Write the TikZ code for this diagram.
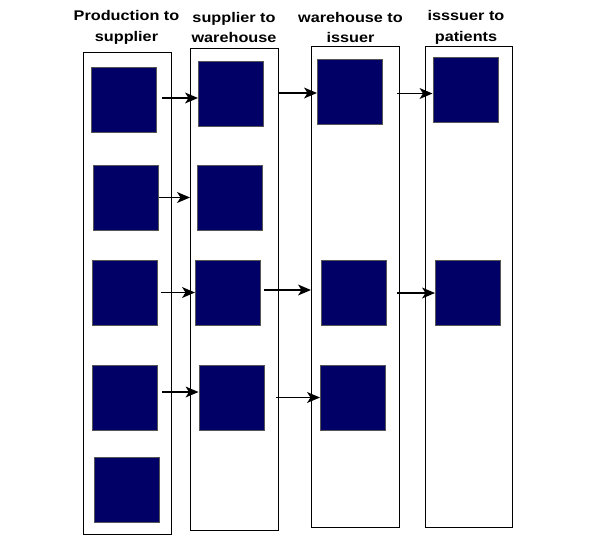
\documentclass[tikz,border=0pt]{standalone}
\usepackage{fontspec}
\setmainfont{Liberation Sans}
\newfontfamily\hdrfont[FakeStretch=1.16]{Liberation Sans}
\definecolor{navy}{HTML}{000066}
\definecolor{sqedge}{HTML}{555555}
\tikzset{
  lane/.style={draw=black, line width=1.4pt, fill=white, minimum width=88pt, minimum height=481pt, inner sep=0pt, anchor=north west},
  sq/.style={draw=sqedge, line width=1pt, fill=navy, minimum size=65pt, inner sep=0pt},
  arr/.style={draw=black, line width=1.3pt, shorten >=5pt},
  ahead/.pic={\fill[black] (0,0) -- (-13,5.5) -- (-9.5,0) -- (-13,-5.5) -- cycle;},
  hdr/.style={font=\hdrfont\fontsize{14}{20.5}\selectfont\bfseries, align=center, inner sep=0pt}
}
\begin{document}
\begin{tikzpicture}[x=1pt,y=-1pt]
\useasboundingbox (0,0) rectangle (597,539);
% lanes
\node[lane, minimum height=482pt] (A) at (83,52) {};
\node[lane, minimum height=482pt] (B) at (190,48) {};
\node[lane, minimum width=87.5pt, minimum height=481pt] (C) at (311,46) {};
\node[lane, minimum width=87.5pt, minimum height=481pt] (D) at (424.5,46) {};
% headers
\node[hdr] (hA) at (126.5,27.5) {Production to\\supplier};
\node[hdr] (hB) at (234,27.5) {supplier to\\warehouse};
\node[hdr] (hC) at (350.5,27.5) {warehouse to\\issuer};
\node[hdr] (hD) at (466,27.5) {isssuer to\\patients};
% squares
\node[sq] (a1) at (124,99.5) {};
\node[sq] (a2) at (126,197.5) {};
\node[sq] (a3) at (124.5,292.5) {};
\node[sq] (a4) at (125,397.5) {};
\node[sq] (a5) at (127,490) {};
\node[sq] (b1) at (231,94) {};
\node[sq] (b2) at (230,197.5) {};
\node[sq] (b3) at (228,293) {};
\node[sq] (b4) at (231.5,397.5) {};
\node[sq] (c1) at (350,91.5) {};
\node[sq] (c3) at (354,293) {};
\node[sq] (c4) at (353,397.5) {};
\node[sq] (d1) at (465.5,90) {};
\node[sq] (d3) at (468,293) {};
% arrows row 1
\draw[arr] ([xshift=5pt,yshift=1.5pt]a1.east) -- ([yshift=1.5pt]a1.east -| b1.west) pic{ahead};
\draw[arr] ([yshift=-1.5pt]c1.west -| B.east) -- ([yshift=-1.5pt]c1.west) pic{ahead};
\draw[arr] ([xshift=-3pt,yshift=-3.5pt]d1.west -| C.east) -- ([yshift=-3.5pt]d1.west) pic{ahead};
% row 2
\draw[arr] (a2.east) -- (a2.east -| B.west) pic{ahead};
% row 3
\draw[arr] ([xshift=3pt]a3.east) -- (a3.east -| b3.west) pic{ahead};
\draw[arr] ([xshift=3pt,yshift=3pt]b3.east) -- ([yshift=3pt]b3.east -| C.west) pic{ahead};
\draw[arr] ([xshift=-3pt]d3.west -| C.east) -- (d3.west) pic{ahead};
% row 4
\draw[arr] ([xshift=4pt,yshift=5.5pt]a4.east) -- ([yshift=5.5pt]a4.east -| b4.west) pic{ahead};
\draw[arr] ([xshift=11pt]b4.east) -- (c4.west) pic{ahead};
\end{tikzpicture}
\end{document}
